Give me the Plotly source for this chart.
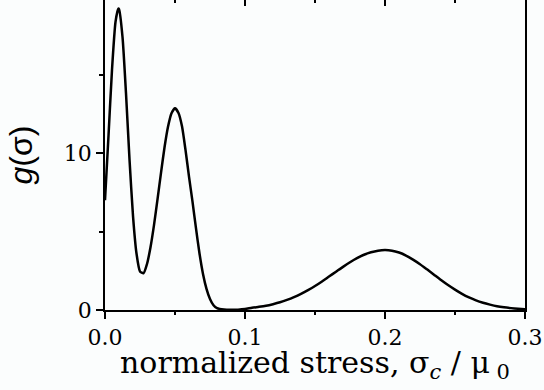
import plotly.graph_objects as go

sigma = [0.0, 0.0025, 0.005, 0.0075, 0.0095, 0.01, 0.0125, 0.015, 0.0175, 0.02,
         0.0225, 0.025, 0.0275, 0.03, 0.0325, 0.035, 0.0375, 0.04, 0.0425, 0.045,
         0.0475, 0.05, 0.0525, 0.055, 0.0575, 0.06, 0.0625, 0.065, 0.0675, 0.07,
         0.0725, 0.075, 0.0775, 0.08, 0.085, 0.09, 0.095, 0.1,
         0.105, 0.11, 0.115, 0.12, 0.125, 0.13, 0.135, 0.14, 0.145, 0.15,
         0.155, 0.16, 0.165, 0.17, 0.175, 0.18, 0.185, 0.19, 0.195, 0.2,
         0.205, 0.21, 0.215, 0.22, 0.225, 0.23, 0.235, 0.24, 0.245, 0.25,
         0.255, 0.26, 0.265, 0.27, 0.275, 0.28, 0.285, 0.29, 0.295, 0.3]
g = [7.0, 11.1, 15.3, 18.35, 19.2, 19.17, 17.4, 13.8, 9.6, 6.0,
     3.6, 2.46, 2.34, 2.93, 4.0, 5.41, 7.05, 8.74, 10.35, 11.67,
     12.54, 12.85, 12.55, 11.7, 10.2, 8.5, 6.9, 5.2, 3.6, 2.3,
     1.35, 0.7, 0.3, 0.12, 0.03, 0.01, 0.02, 0.06,
     0.14, 0.2, 0.27, 0.37, 0.49, 0.64, 0.82, 1.03, 1.27, 1.53,
     1.82, 2.13, 2.44, 2.75, 3.04, 3.30, 3.52, 3.68, 3.78, 3.82,
     3.78, 3.66, 3.47, 3.21, 2.92, 2.59, 2.25, 1.91, 1.59, 1.30,
     1.03, 0.80, 0.61, 0.46, 0.34, 0.24, 0.17, 0.12, 0.08, 0.05]

x_ticks = [0.0, 0.1, 0.2, 0.3]
x_tick_labels = ["0.0", "0.1", "0.2", "0.3"]
y_ticks = [0, 10]
y_tick_labels = ["0", "10"]

fig = go.Figure()
fig.add_trace(go.Scatter(x=sigma, y=g, mode="lines",
                         line=dict(color="black", width=2.5, shape="spline", smoothing=0.6),
                         showlegend=False, hoverinfo="skip"))
# top axis carrying the inward ticks
fig.add_trace(go.Scatter(x=[sigma[0]], y=[g[0]], xaxis="x2", mode="lines",
                         showlegend=False, hoverinfo="skip", opacity=0))

serif = "DejaVu Serif"
nb = "\u00a0"
x_title = "normalized stress, σ<sub><i>c</i></sub>" + nb + "/" + nb + "μ<sub>" + nb + "0</sub>"
fig.update_layout(
    width=544, height=390,
    margin=dict(l=105, r=19, t=0, b=80),
    paper_bgcolor="#fbfdfd", plot_bgcolor="#fbfdfd",
    xaxis=dict(range=[0, 0.3], tickvals=x_ticks, ticktext=x_tick_labels,
               ticks="outside", ticklen=7, tickwidth=1.5, tickcolor="black",
               showline=True, linecolor="black", linewidth=1.5, mirror=False,
               showgrid=False, zeroline=False,
               minor=dict(ticks="outside", ticklen=3, tickwidth=1.5, tickcolor="black",
                          tickvals=[0.05, 0.15, 0.25], showgrid=False),
               tickfont=dict(family=serif, size=22, color="black")),
    xaxis2=dict(range=[0, 0.3], overlaying="x", side="top", tickvals=[0.1, 0.2],
                ticks="inside", ticklen=6, tickwidth=1.5, tickcolor="black",
                showticklabels=False, showline=False, showgrid=False, zeroline=False,
                minor=dict(ticks="inside", ticklen=3, tickwidth=1.5, tickcolor="black",
                           tickvals=[0.05, 0.15, 0.25], showgrid=False)),
    yaxis=dict(range=[0, 19.75], tickvals=y_ticks, ticktext=y_tick_labels,
               ticks="outside", ticklen=7, tickwidth=1.5, tickcolor="black",
               showline=True, linecolor="black", linewidth=1.5, mirror=True,
               showgrid=False, zeroline=False,
               minor=dict(ticks="outside", ticklen=4, tickwidth=1.5, tickcolor="black",
                          tickvals=[5, 15], showgrid=False),
               tickfont=dict(family=serif, size=22, color="black"),
               title=dict(text="<i>g</i>(σ)" + nb + nb, font=dict(family="Liberation Sans", size=32, color="black"),
                          standoff=22)),
    annotations=[dict(text=x_title, xref="paper", yref="paper", x=0.5, y=-0.105,
                      xanchor="center", yanchor="top", showarrow=False,
                      font=dict(family=serif, size=30, color="black"))],
)

fig.write_html("out.html")
